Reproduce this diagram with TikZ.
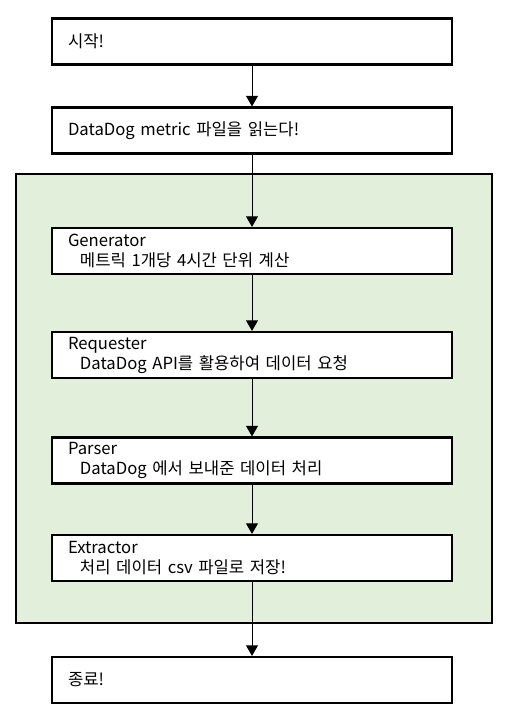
\documentclass[tikz,border=0pt]{standalone}
\usepackage{fontspec}
\setmainfont{Noto Sans CJK KR}
\usetikzlibrary{arrows.meta}
\definecolor{groupgreen}{HTML}{E2EFDA}
\begin{document}
\begin{tikzpicture}[x=0.75pt,y=-0.75pt,
  stepbox/.style={draw=black, line width=1.6pt, fill=white, rectangle,
    text width=276pt, inner xsep=12pt, inner ysep=0pt, minimum height=34.5pt,
    align=left, font=\fontsize{12.5}{15}\selectfont},
  flow/.style={draw=black, line width=0.75pt, -{Triangle[length=8pt,width=9pt]}},
  group/.style={draw=black, line width=1.6pt, fill=groupgreen}]
\useasboundingbox (0,0) rectangle (505,718);
\fill[white] (0,0) rectangle (505,718);
\draw[group] (16,174) rectangle (492,623);
\node[stepbox] (start) at (252,41.5) {시작!};
\node[stepbox] (read) at (252,130.5) {DataDog metric 파일을 읽는다!};
\node[stepbox] (gen) at (252,251) {Generator\\\hspace*{9pt}메트릭 1개당 4시간 단위 계산};
\node[stepbox] (req) at (252,355) {Requester\\\hspace*{9pt}DataDog API를 활용하여 데이터 요청};
\node[stepbox] (parser) at (252,460.5) {Parser\\\hspace*{9pt}DataDog 에서 보내준 데이터 처리};
\node[stepbox] (extr) at (252,558) {Extractor\\\hspace*{9pt}처리 데이터 csv 파일로 저장!};
\node[stepbox] (end) at (252,680) {종료!};
\draw[flow] (start) -- (read);
\draw[flow] (read) -- (gen);
\draw[flow] (gen) -- (req);
\draw[flow] (req) -- (parser);
\draw[flow] (parser) -- (extr);
\draw[flow] (extr) -- (end);
\end{tikzpicture}
\end{document}
